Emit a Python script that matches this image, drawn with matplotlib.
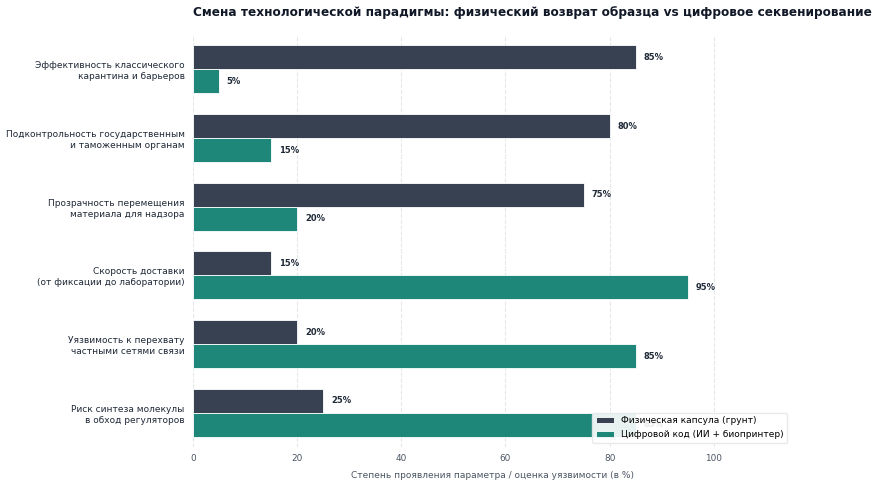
import matplotlib
matplotlib.use("Agg")
import matplotlib.pyplot as plt
import numpy as np

categories = [
    "Эффективность классического\nкарантина и барьеров",
    "Подконтрольность государственным\nи таможенным органам",
    "Прозрачность перемещения\nматериала для надзора",
    "Скорость доставки\n(от фиксации до лаборатории)",
    "Уязвимость к перехвату\nчастными сетями связи",
    "Риск синтеза молекулы\nв обход регуляторов",
]
physical = [85, 80, 75, 15, 20, 25]
digital = [5, 15, 20, 95, 85, 85]
series_names = ["Физическая капсула (грунт)", "Цифровой код (ИИ + биопринтер)"]
xticks = [0, 20, 40, 60, 80, 100]

c_dark = "#374151"
c_teal = "#1f877a"

fig = plt.figure(figsize=(8.77, 4.87), dpi=100)
ax = fig.add_axes([0.22, 0.082, 0.683, 0.846])

y = np.arange(len(categories))
h = 0.35
b1 = ax.barh(y - h / 2, physical, height=h, color=c_dark, edgecolor="white", linewidth=0.6, label=series_names[0], zorder=3)
b2 = ax.barh(y + h / 2, digital, height=h, color=c_teal, edgecolor="white", linewidth=0.6, label=series_names[1], zorder=3)

for bars, vals in ((b1, physical), (b2, digital)):
    for bar, v in zip(bars, vals):
        ax.text(v + 1.5, bar.get_y() + bar.get_height() / 2, f"{v}%",
                va="center", ha="left", fontsize=6, fontweight="bold", color="#1f2937", zorder=2)

ax.set_xlim(0, 115)
ax.set_ylim(5.5, -0.5)
ax.set_yticks(y)
ax.set_yticklabels(categories, fontsize=6.5, color="#1f2937", linespacing=1.3)
ax.set_xticks(xticks)
ax.set_xticklabels([str(t) for t in xticks], fontsize=6.4, color="#4b5563")
ax.tick_params(axis="both", length=0)
ax.tick_params(axis="x", pad=5)
ax.tick_params(axis="y", pad=6)
for s in ax.spines.values():
    s.set_visible(False)
ax.grid(axis="x", linestyle="--", color="#e5e7eb", linewidth=0.8, zorder=0)
ax.set_axisbelow(True)

ax.set_xlabel("Степень проявления параметра / оценка уязвимости (в %)", fontsize=6.5, color="#4b5563", labelpad=6)
ax.set_title("Смена технологической парадигмы: физический возврат образца vs цифровое секвенирование",
             loc="left", fontsize=8.7, fontweight="bold", color="#111827", pad=14)

leg = ax.legend(loc="lower right", fontsize=6.5, frameon=True, framealpha=0.9, edgecolor="#e5e7eb", fancybox=True)
leg.set_zorder(5)

fig.savefig("out.png", dpi=100)
